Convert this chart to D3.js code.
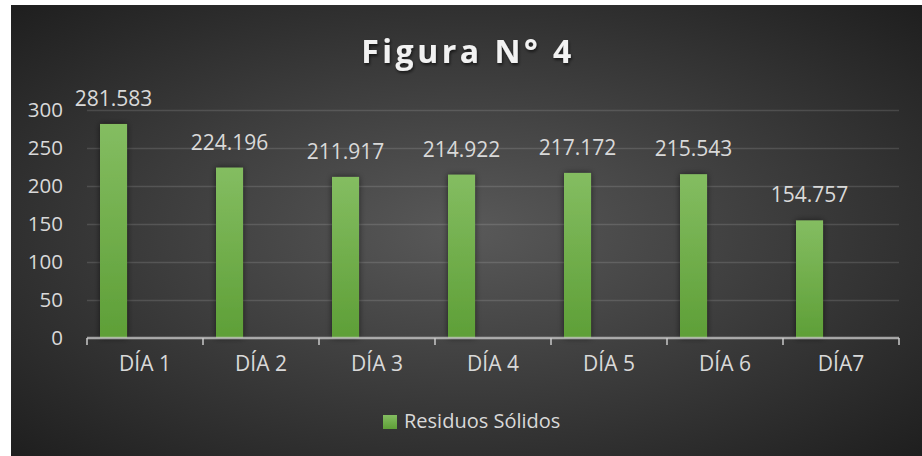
<!DOCTYPE html>
<html>
<head>
<meta charset="utf-8">
<script src="https://cdn.jsdelivr.net/npm/d3@7"></script>
<style>
  html, body { margin: 0; padding: 0; background: #ffffff; }
  svg { display: block; font-family: "Open Sans", sans-serif; }
</style>
</head>
<body>
<script>
// data
var dias = ["DÍA 1", "DÍA 2", "DÍA 3", "DÍA 4", "DÍA 5", "DÍA 6", "DÍA7"];
var residuos = [281.583, 224.196, 211.917, 214.922, 217.172, 215.543, 154.757];
var yTicks = [0, 50, 100, 150, 200, 250, 300];
var serieNombre = "Residuos Sólidos";
var titulo = "Figura N° 4";

var W = 922, H = 456;
var box = { x: 11, y: 5 };           // dark chart area offset
var plot = { left: 87, right: 899, top: 110, bottom: 338 };

var svg = d3.select("body").append("svg")
  .attr("width", W)
  .attr("height", H);

var defs = svg.append("defs");

// background: radial, lighter in the middle
var bg = defs.append("radialGradient")
  .attr("id", "bg")
  .attr("cx", "50%").attr("cy", "50%").attr("r", "70%");
bg.append("stop").attr("offset", "0%").attr("stop-color", "#595959");
bg.append("stop").attr("offset", "100%").attr("stop-color", "#1f1f1f");

// bar fill, lighter on top
var barGrad = defs.append("linearGradient")
  .attr("id", "barGrad")
  .attr("x1", 0).attr("y1", 0).attr("x2", 0).attr("y2", 1);
barGrad.append("stop").attr("offset", "0%").attr("stop-color", "#84bd61");
barGrad.append("stop").attr("offset", "100%").attr("stop-color", "#5e9f37");

var shadow = defs.append("filter")
  .attr("id", "barShadow")
  .attr("x", "-50%").attr("y", "-10%").attr("width", "200%").attr("height", "120%");
shadow.append("feDropShadow")
  .attr("dx", 0).attr("dy", 0)
  .attr("stdDeviation", 3)
  .attr("flood-color", "#000")
  .attr("flood-opacity", 0.55);

var txtShadow = defs.append("filter").attr("id", "txtShadow");
txtShadow.append("feDropShadow")
  .attr("dx", 1).attr("dy", 2)
  .attr("stdDeviation", 1.5)
  .attr("flood-color", "#000")
  .attr("flood-opacity", 0.6);

svg.append("rect")
  .attr("x", box.x).attr("y", box.y)
  .attr("width", W - box.x).attr("height", H - box.y)
  .attr("fill", "url(#bg)");

// scales
var x = d3.scaleBand()
  .domain(dias)
  .range([plot.left, plot.right])
  .paddingInner(0).paddingOuter(0);

var y = d3.scaleLinear()
  .domain([0, 300])
  .range([plot.bottom, plot.top]);

// Y axis + gridlines
var gY = svg.append("g")
  .attr("transform", "translate(" + plot.left + ",0)")
  .call(d3.axisLeft(y)
    .tickValues(yTicks)
    .tickSize(-(plot.right - plot.left))
    .tickPadding(24)
    .tickFormat(d3.format("d")));
gY.select(".domain").remove();
gY.selectAll(".tick line")
  .attr("stroke", "#ffffff")
  .attr("stroke-opacity", 0.13)
  .attr("stroke-width", 1.5);
gY.selectAll(".tick text")
  .attr("fill", "#d9d9d9")
  .attr("font-size", "20.5px")
  .attr("font-family", "'Open Sans', sans-serif");

// bars: first slot of each category (Excel clustered layout)
var bw = x.bandwidth();
var barOff = bw * 0.112, barW = bw * 0.233;

svg.append("g")
  .selectAll("rect")
  .data(residuos)
  .enter()
  .append("rect")
  .attr("x", function (d, i) { return x(dias[i]) + barOff; })
  .attr("y", function (d) { return y(d); })
  .attr("width", barW)
  .attr("height", function (d) { return y(0) - y(d); })
  .attr("fill", "url(#barGrad)")
  .attr("filter", "url(#barShadow)");

// value labels
svg.append("g")
  .selectAll("text")
  .data(residuos)
  .enter()
  .append("text")
  .attr("x", function (d, i) { return x(dias[i]) + barOff + barW / 2; })
  .attr("y", function (d) { return y(d) - 18; })
  .attr("text-anchor", "middle")
  .attr("fill", "#d9d9d9")
  .attr("font-size", "21px")
  .text(function (d) { return d3.format(".3f")(d); });

// X axis: line, boundary ticks, centred labels
var gX = svg.append("g")
  .attr("transform", "translate(0," + plot.bottom + ")")
  .call(d3.axisBottom(x).tickSize(0).tickPadding(18));
gX.select(".domain").remove();
gX.selectAll(".tick text")
  .attr("fill", "#d9d9d9")
  .attr("font-size", "21px")
  .attr("font-family", "'Open Sans', sans-serif");

var bounds = dias.map(function (d) { return x(d); }).concat([plot.right]);
gX.append("line")
  .attr("x1", plot.left).attr("x2", plot.right)
  .attr("y1", 0).attr("y2", 0)
  .attr("stroke", "#c8c8c8")
  .attr("stroke-opacity", 0.75)
  .attr("stroke-width", 2.5);
gX.selectAll(".bound")
  .data(bounds)
  .enter()
  .append("line")
  .attr("class", "bound")
  .attr("x1", function (d) { return d; })
  .attr("x2", function (d) { return d; })
  .attr("y1", 0).attr("y2", 7)
  .attr("stroke", "#c8c8c8")
  .attr("stroke-opacity", 0.75)
  .attr("stroke-width", 2);

// title
svg.append("text")
  .attr("x", 468)
  .attr("y", 63)
  .attr("text-anchor", "middle")
  .attr("fill", "#f2f2f2")
  .attr("font-size", "32px")
  .attr("font-weight", "bold")
  .attr("letter-spacing", "3.5px")
  .attr("filter", "url(#txtShadow)")
  .text(titulo);

// legend
var lg = svg.append("g").attr("transform", "translate(383,415)");
lg.append("rect")
  .attr("width", 14).attr("height", 14)
  .attr("fill", "url(#barGrad)");
lg.append("text")
  .attr("x", 21).attr("y", 13)
  .attr("fill", "#d9d9d9")
  .attr("font-size", "20px")
  .text(serieNombre);
</script>
</body>
</html>
